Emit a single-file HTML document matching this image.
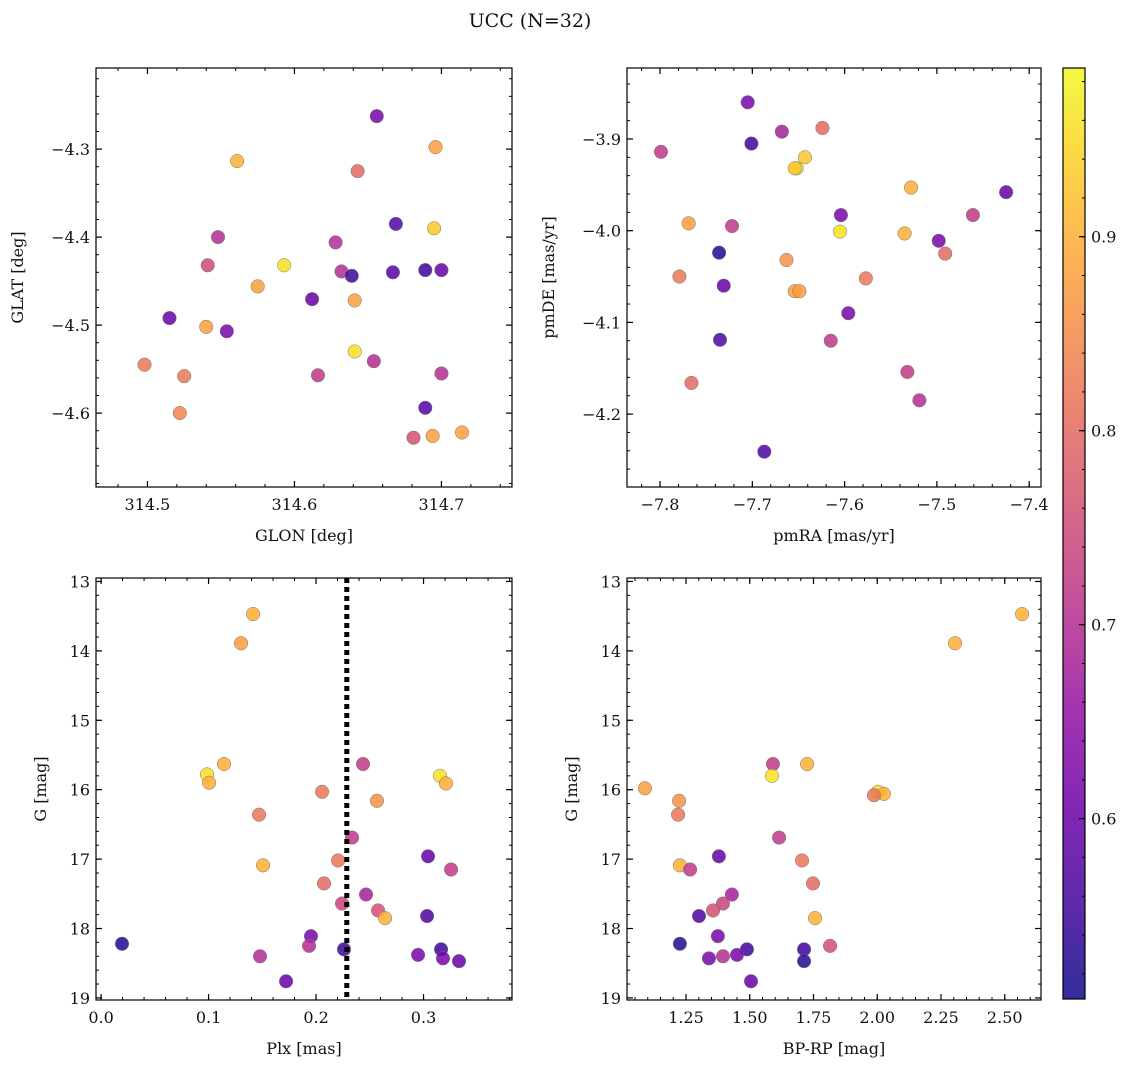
<!DOCTYPE html>
<html><head><meta charset="utf-8">
<style>
html,body{margin:0;padding:0;background:#fff;}
svg text{font-family:"DejaVu Serif","Liberation Serif",serif;fill:#111;}
</style></head>
<body>
<svg id="fig" width="1136" height="1067" viewBox="0 0 1136 1067" xmlns="http://www.w3.org/2000/svg">
<text x="530" y="27" font-size="19" text-anchor="middle">UCC (N=32)</text>
</svg>
<script>
// ---- Panel 1: GLON vs GLAT ----
const glon = [314.656,314.561,314.696,314.643,314.669,314.695,314.548,314.628,314.593,314.541,314.632,314.639,314.667,314.689,314.700,314.575,314.612,314.641,314.515,314.540,314.554,314.641,314.654,314.498,314.700,314.525,314.616,314.689,314.522,314.681,314.694,314.714];
const glat = [-4.2625,-4.3136,-4.2977,-4.325,-4.385,-4.390,-4.400,-4.406,-4.432,-4.432,-4.439,-4.444,-4.440,-4.4375,-4.4375,-4.456,-4.4705,-4.472,-4.492,-4.502,-4.507,-4.530,-4.541,-4.545,-4.555,-4.558,-4.557,-4.594,-4.600,-4.628,-4.626,-4.622];
const prob1 = [0.62,0.90,0.88,0.80,0.58,0.93,0.70,0.70,0.96,0.75,0.70,0.55,0.58,0.55,0.60,0.88,0.60,0.88,0.60,0.88,0.62,0.96,0.70,0.82,0.70,0.82,0.72,0.58,0.84,0.76,0.88,0.88];
// ---- Panel 2: pmRA vs pmDE ----
const pmra = [-7.705,-7.799,-7.668,-7.701,-7.624,-7.643,-7.652,-7.425,-7.528,-7.461,-7.604,-7.769,-7.722,-7.605,-7.535,-7.498,-7.736,-7.491,-7.663,-7.779,-7.577,-7.731,-7.654,-7.649,-7.596,-7.735,-7.615,-7.532,-7.766,-7.519,-7.687,-7.654];
const pmde = [-3.860,-3.914,-3.892,-3.905,-3.888,-3.920,-3.932,-3.958,-3.953,-3.983,-3.983,-3.992,-3.995,-4.001,-4.003,-4.011,-4.024,-4.025,-4.032,-4.050,-4.052,-4.060,-4.066,-4.066,-4.090,-4.119,-4.120,-4.154,-4.166,-4.185,-4.241,-3.932];
const prob2 = [0.62,0.72,0.68,0.55,0.80,0.93,0.96,0.60,0.90,0.72,0.62,0.88,0.72,0.96,0.90,0.62,0.53,0.80,0.86,0.82,0.82,0.60,0.88,0.88,0.62,0.57,0.72,0.72,0.80,0.70,0.57,0.93];
// ---- Panel 3: Plx vs G ----
const plx = [0.1414,0.1302,0.1144,0.2437,0.3153,0.0986,0.1005,0.3209,0.2056,0.2567,0.1470,0.2335,0.3042,0.1507,0.3256,0.2205,0.2074,0.2465,0.2242,0.2577,0.2642,0.3033,0.1953,0.1935,0.0195,0.2260,0.3163,0.2949,0.3181,0.1479,0.3330,0.1721];
const gmag3 = [13.47,13.89,15.63,15.63,15.80,15.78,15.90,15.91,16.03,16.16,16.36,16.69,16.96,17.09,17.15,17.02,17.35,17.51,17.64,17.74,17.85,17.82,18.11,18.25,18.22,18.30,18.30,18.38,18.43,18.40,18.47,18.76];
const prob3 = [0.90,0.88,0.90,0.72,0.96,0.96,0.90,0.90,0.82,0.86,0.82,0.72,0.60,0.90,0.72,0.82,0.80,0.68,0.74,0.76,0.90,0.57,0.62,0.70,0.53,0.55,0.55,0.62,0.62,0.70,0.60,0.60];
const plxLine = 0.2286;
// ---- Panel 4: BP-RP vs G ----
const bprp = [2.568,2.305,1.089,1.591,1.725,1.587,2.003,2.026,1.987,1.223,1.219,1.615,1.379,1.226,1.705,1.266,1.748,1.430,1.395,1.356,1.756,1.301,1.375,1.395,1.226,1.489,1.713,1.450,1.340,1.815,1.713,1.505];
const gmag4 = [13.47,13.89,15.98,15.63,15.63,15.80,16.03,16.06,16.08,16.16,16.36,16.69,16.96,17.09,17.02,17.15,17.35,17.51,17.64,17.74,17.85,17.82,18.11,18.40,18.22,18.30,18.30,18.38,18.43,18.25,18.47,18.76];
const prob4 = [0.90,0.90,0.88,0.72,0.90,0.96,0.96,0.90,0.82,0.86,0.82,0.72,0.60,0.90,0.82,0.72,0.80,0.68,0.74,0.76,0.90,0.57,0.62,0.70,0.53,0.55,0.55,0.62,0.62,0.76,0.53,0.60];
// ---- Tick labels ----
const glonTicks = [314.5,314.6,314.7];
const glatTicks = [-4.3,-4.4,-4.5,-4.6];
const pmraTicks = [-7.8,-7.7,-7.6,-7.5,-7.4];
const pmdeTicks = [-3.9,-4.0,-4.1,-4.2];
const plxTicks = [0.0,0.1,0.2,0.3];
const gTicks = [13,14,15,16,17,18,19];
const bprpTicks = [1.25,1.50,1.75,2.00,2.25,2.50];
const cbarTicks = [0.6,0.7,0.8,0.9];
const cMin = 0.507, cMax = 0.987;

const NS = 'http://www.w3.org/2000/svg';
const svg = document.getElementById('fig');
function mk(tag, attrs, parent){
  const e = document.createElementNS(NS, tag);
  for (const k in attrs) e.setAttribute(k, attrs[k]);
  (parent||svg).appendChild(e);
  return e;
}
const plasma = [[13,8,135],[65,4,157],[106,0,168],[143,13,164],[177,42,144],[204,71,120],[225,100,98],[242,132,75],[252,166,54],[252,206,37],[240,249,33]];
function cmap(t){
  t = Math.max(0, Math.min(1, t));
  const f = t*10, i = Math.min(9, Math.floor(f)), r = f - i;
  const a = plasma[i], b = plasma[i+1];
  return 'rgb(' + [0,1,2].map(k => Math.round(a[k] + (b[k]-a[k])*r)).join(',') + ')';
}
function cval(p){ return cmap((p - cMin)/(cMax - cMin)); }

function panel(opt){
  const g = mk('g', {});
  
  
  const L=opt.box[0], T=opt.box[1], R=opt.box[2], B=opt.box[3];
  const sx = v => L + (v - opt.xd[0])/(opt.xd[1]-opt.xd[0])*(R-L);
  const sy = v => T + (v - opt.yd[0])/(opt.yd[1]-opt.yd[0])*(B-T);
  // points
  for (let i=0;i<opt.x.length;i++){
    const c = mk('circle', {cx:sx(opt.x[i]), cy:sy(opt.y[i]), r:6.8, fill:cval(opt.c[i]), 'fill-opacity':0.85, stroke:'#777', 'stroke-width':0.5}, g);
    
    
  }
  if (opt.vline !== undefined){
    const l = mk('line', {x1:sx(opt.vline), x2:sx(opt.vline), y1:T, y2:B, stroke:'#000', 'stroke-width':5, 'stroke-dasharray':'5 4'}, g);
    
    
  }
  const fr = mk('rect', {x:L, y:T, width:R-L, height:B-T, fill:'none', stroke:'#000', 'stroke-width':1.2}, g);
  
  
  // minor ticks
  const xlo=Math.min(...opt.xd), xhi=Math.max(...opt.xd), ylo=Math.min(...opt.yd), yhi=Math.max(...opt.yd);
  for (let v=Math.ceil(xlo/opt.xm)*opt.xm; v<=xhi; v+=opt.xm){
    const x=sx(v);
    mk('line',{x1:x,x2:x,y1:B,y2:B-3,stroke:'#000','stroke-width':1},g);
    mk('line',{x1:x,x2:x,y1:T,y2:T+3,stroke:'#000','stroke-width':1},g);
  }
  for (let v=Math.ceil(ylo/opt.ym)*opt.ym; v<=yhi; v+=opt.ym){
    const y=sy(v);
    mk('line',{x1:L,x2:L+3,y1:y,y2:y,stroke:'#000','stroke-width':1},g);
    mk('line',{x1:R,x2:R-3,y1:y,y2:y,stroke:'#000','stroke-width':1},g);
  }
  opt.xt.forEach(v=>{
    const x=sx(v);
    mk('line',{x1:x,x2:x,y1:B,y2:B-6,stroke:'#000','stroke-width':1.2},g);
    mk('line',{x1:x,x2:x,y1:T,y2:T+6,stroke:'#000','stroke-width':1.2},g);
    const t=mk('text',{x:x,y:B+23,'font-size':16,'text-anchor':'middle'},g);
    t.textContent = (v<0?'\u2212':'') + Math.abs(v).toFixed(opt.xdec);
    
    
  });
  opt.yt.forEach(v=>{
    const y=sy(v);
    mk('line',{x1:L,x2:L+6,y1:y,y2:y,stroke:'#000','stroke-width':1.2},g);
    mk('line',{x1:R,x2:R-6,y1:y,y2:y,stroke:'#000','stroke-width':1.2},g);
    const t=mk('text',{x:L-6,y:y+6,'font-size':16,'text-anchor':'end'},g);
    t.textContent = (v<0?'\u2212':'') + Math.abs(v).toFixed(opt.ydec);
    
    
  });
  const xl=mk('text',{x:(L+R)/2,y:B+54,'font-size':16,'text-anchor':'middle'},g);
  xl.textContent=opt.xlabel;
  
  
  const yl=mk('text',{x:opt.ylx,y:(T+B)/2,'font-size':16,'text-anchor':'middle',transform:'rotate(-90 '+opt.ylx+' '+(T+B)/2+')'},g);
  yl.textContent=opt.ylabel;
  
  
}

panel({name:'glon-glat-panel',box:[96,68,512,487],x:glon,y:glat,c:prob1,
  xd:[314.465,314.748],yd:[-4.2078,-4.684],xt:glonTicks,yt:glatTicks,xm:0.02,ym:0.02,xdec:1,ydec:1,
  xlabel:'GLON [deg]',ylabel:'GLAT [deg]',ylx:23});
panel({name:'pm-panel',box:[627,68,1041,487],x:pmra,y:pmde,c:prob2,
  xd:[-7.8358,-7.3872],yd:[-3.8226,-4.2795],xt:pmraTicks,yt:pmdeTicks,xm:0.02,ym:0.02,xdec:1,ydec:1,
  xlabel:'pmRA [mas/yr]',ylabel:'pmDE [mas/yr]',ylx:554});
panel({name:'plx-g-panel',box:[96,578,512,1000],x:plx,y:gmag3,c:prob3,vline:plxLine,
  xd:[-0.0047,0.3823],yd:[12.95,19.03],xt:plxTicks,yt:gTicks,xm:0.02,ym:0.2,xdec:1,ydec:0,
  xlabel:'Plx [mas]',ylabel:'G [mag]',ylx:46});
panel({name:'cmd-panel',box:[627,578,1041,1000],x:bprp,y:gmag4,c:prob4,
  xd:[1.0186,2.6422],yd:[12.95,19.03],xt:bprpTicks,yt:gTicks,xm:0.05,ym:0.2,xdec:2,ydec:0,
  xlabel:'BP-RP [mag]',ylabel:'G [mag]',ylx:577});

// colorbar
(function(){
  const L=1063,R=1085,T=68,B=999;
  const defs=mk('defs',{});
  const lg=mk('linearGradient',{id:'cb',x1:0,y1:1,x2:0,y2:0},defs);
  for(let i=0;i<=10;i++) mk('stop',{offset:i/10,'stop-color':cmap(i/10),'stop-opacity':0.85},lg);
  const g=mk('g',{});
  
  
  mk('rect',{x:L,y:T,width:R-L,height:B-T,fill:'url(#cb)',stroke:'#000','stroke-width':1.2},g);
  const sy=v=>B-(v-cMin)/(cMax-cMin)*(B-T);
  for(let v=0.52; v<cMax; v+=0.02){
    const y=sy(v);
    mk('line',{x1:R,x2:R-3,y1:y,y2:y,stroke:'#000','stroke-width':1},g);
  }
  cbarTicks.forEach(v=>{
    const y=sy(v);
    mk('line',{x1:R,x2:R-6,y1:y,y2:y,stroke:'#000','stroke-width':1.2},g);
    const t=mk('text',{x:R+6,y:y+6,'font-size':16},g);
    t.textContent=v.toFixed(1);
    
    
  });
})();
</script>
</body></html>
